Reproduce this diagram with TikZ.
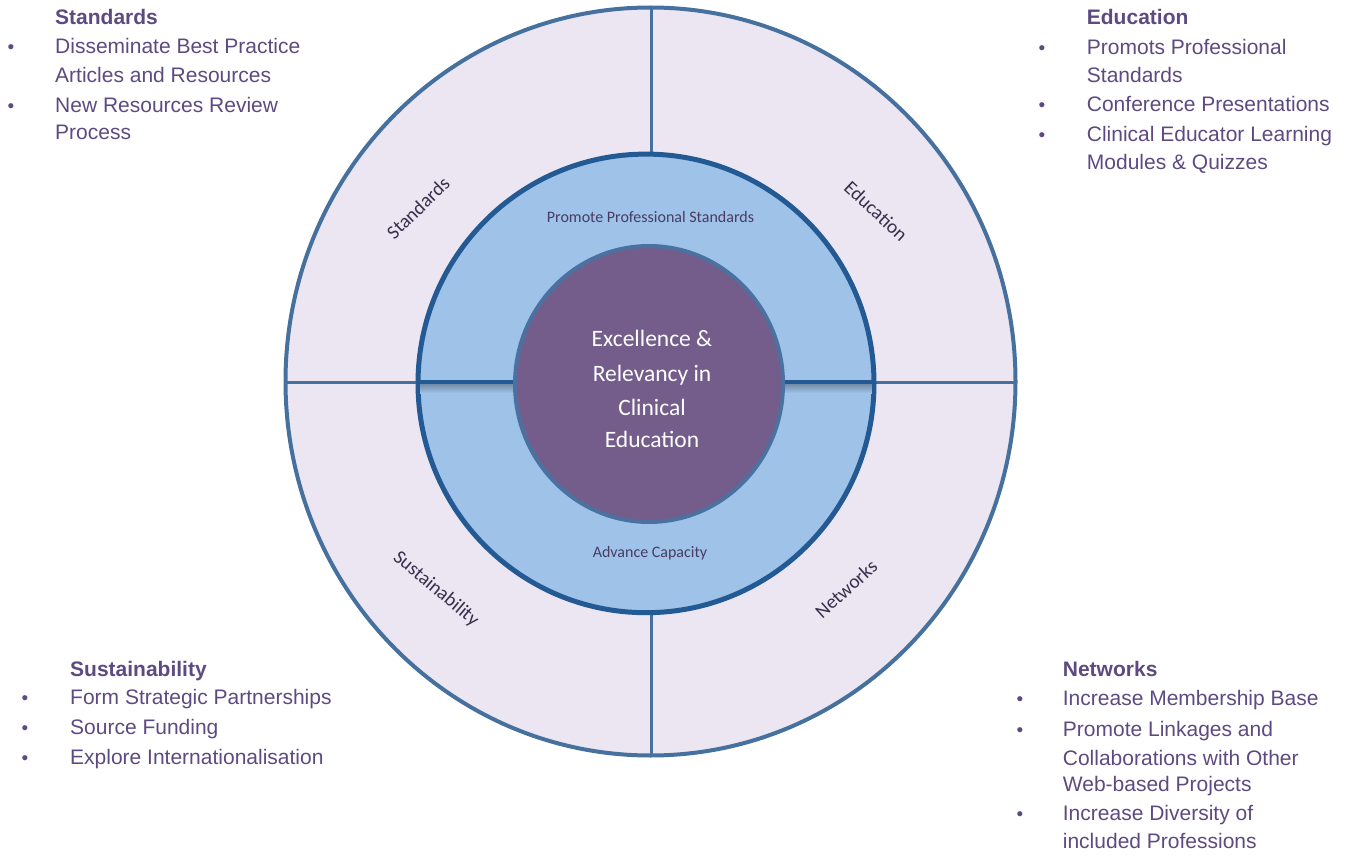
\documentclass[tikz,border=0pt]{standalone}
\usepackage{fontspec}
\setmainfont{Liberation Sans}
\newfontfamily\calib{Carlito}
\definecolor{outerfill}{HTML}{EBE6F1}
\definecolor{outerline}{HTML}{46709E}
\definecolor{midfill}{HTML}{9EC2E8}
\definecolor{midline}{HTML}{245A93}
\definecolor{innerfill}{HTML}{745D8B}
\definecolor{innerline}{HTML}{4A71A0}
\definecolor{listtxt}{HTML}{5D4A80}
\definecolor{ringtxt}{HTML}{3A2E4C}
\definecolor{midtxt}{HTML}{4A3B64}
\tikzset{
  itm/.style={anchor=base west, inner sep=0pt, text=listtxt, font=\fontsize{21}{24}\selectfont},
  head/.style={itm, font=\fontsize{21}{24}\selectfont\bfseries},
  bul/.style={anchor=base, inner sep=0pt, text=listtxt, font=\fontsize{19}{23}\selectfont},
  ringlabel/.style={inner sep=0pt, text=ringtxt, font=\calib\fontsize{19.5}{23}\selectfont},
  midlabel/.style={anchor=base, inner sep=0pt, text=midtxt, font=\calib\fontsize{16}{18}\selectfont},
  centerlabel/.style={anchor=base, inner sep=0pt, text=white, font=\calib\fontsize{23.5}{26}\selectfont},
}
\begin{document}
\begin{tikzpicture}[x=1pt,y=-1pt]
\useasboundingbox (0,0) rectangle (1353,856);
% outer ring
\draw[fill=outerfill, draw=outerline, line width=4pt] (650.5,381.5) ellipse [x radius=365pt, y radius=374pt];
\draw[outerline, line width=3pt] (651,8) -- (651,382);
\draw[outerline, line width=3pt] (651,382) -- (651,755);
\draw[outerline, line width=3pt] (286,382) -- (1015,382);
% middle ring
\draw[fill=midfill, draw=midline, line width=5pt] (646,383.4) ellipse [x radius=228pt, y radius=229.3pt];
\begin{scope}
\clip (646,383.4) ellipse [x radius=226pt, y radius=227pt];
\shade[top color=black!28!midfill, bottom color=midfill] (418,384) rectangle (874,393);
\end{scope}
\draw[midline, line width=4pt] (418,382) -- (874,382);
% inner
\draw[fill=innerfill, draw=innerline, line width=4pt] (649,384) ellipse [x radius=134pt, y radius=138pt];
% ring labels
\node[ringlabel, rotate=44] (lstd) at (418,208) {Standards};
\node[ringlabel, rotate=-43] (ledu) at (876,211) {Education};
\node[ringlabel, rotate=-40] (lsus) at (436,589) {Sustainability};
\node[ringlabel, rotate=42] (lnet) at (846,589) {Networks};
% middle labels
\node[midlabel] (mtop) at (650.5,222.7) {Promote Professional Standards};
\node[midlabel] (mbot) at (650,557.3) {Advance Capacity};
% centre
\node[centerlabel] (c1) at (652,346.7) {Excellence \&};
\node[centerlabel] (c2) at (652,381) {Relevancy in};
\node[centerlabel] (c3) at (652,415) {Clinical};
\node[centerlabel] (c4) at (652,447.7) {Education};
% Standards list
\node[head] (sh) at (55,25) {Standards};
\node[bul] (sb1) at (11,54) {•};
\node[itm] (s1) at (55,54) {Disseminate Best Practice};
\node[itm] (s2) at (55,83) {Articles and Resources};
\node[bul] (sb2) at (11,112.5) {•};
\node[itm] (s3) at (55,112.5) {New Resources Review};
\node[itm] (s4) at (55,140) {Process};
% Education list
\node[head] (eh) at (1086.7,25) {Education};
\node[bul] (eb1) at (1042,55) {•};
\node[itm] (e1) at (1086.7,55) {Promots Professional};
\node[itm] (e2) at (1086.7,83) {Standards};
\node[bul] (eb2) at (1042,112) {•};
\node[itm] (e3) at (1086.7,112) {Conference Presentations};
\node[bul] (eb3) at (1042,141.5) {•};
\node[itm] (e4) at (1086.7,141.5) {Clinical Educator Learning};
\node[itm] (e5) at (1086.7,170) {Modules \& Quizzes};
% Sustainability list
\node[head] (uh) at (70,676) {Sustainability};
\node[bul] (ub1) at (25,704.3) {•};
\node[itm] (u1) at (70,704.3) {Form Strategic Partnerships};
\node[bul] (ub2) at (25,734.3) {•};
\node[itm] (u2) at (70,734.3) {Source Funding};
\node[bul] (ub3) at (25,764) {•};
\node[itm] (u3) at (70,764) {Explore Internationalisation};
% Networks list
\node[head] (nh) at (1062.7,676.7) {Networks};
\node[bul] (nb1) at (1020,705) {•};
\node[itm] (n1) at (1062.7,705) {Increase Membership Base};
\node[bul] (nb2) at (1020,736.7) {•};
\node[itm] (n2) at (1062.7,736.7) {Promote Linkages and};
\node[itm] (n3) at (1062.7,765) {Collaborations with Other};
\node[itm] (n4) at (1062.7,791.7) {Web-based Projects};
\node[bul] (nb3) at (1020,820.7) {•};
\node[itm] (n5) at (1062.7,820.7) {Increase Diversity of};
\node[itm] (n6) at (1062.7,848.3) {included Professions};
\end{tikzpicture}
\end{document}
